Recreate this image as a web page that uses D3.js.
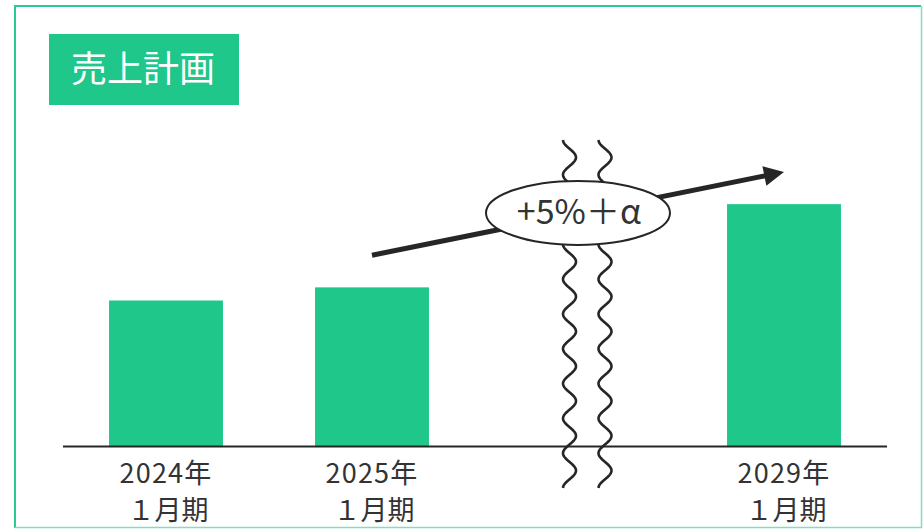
<!DOCTYPE html>
<html><head><meta charset="utf-8">
<script src="https://cdn.jsdelivr.net/npm/d3@7"></script>
<style>html,body{margin:0;padding:0;background:#fff;}svg{display:block;}</style>
</head><body>
<script>
// ---- data ----
const categories = ["2024", "2025", "gap", "2029"];
const barCategories = ["2024", "2025", "2029"];
const barValues = [100, 109, 166];          // index, 2024 = 100
const labelLine1 = ["2024年", "2025年", "2029年"];
const labelLine2 = ["１月期", "１月期", "１月期"];
const title = "売上計画";
const growthLabel = "+5%＋α";
const arrowFrom = {cat: "2025", value: 131};
const arrowTo = {cat: "2029", value: 188};
const bubbleValue = 160;

// ---- layout ----
const W = 923, H = 529;
const green = "#1fc78a", ink = "#262626";
const font = "'Noto Sans CJK JP', 'Noto Sans', sans-serif";

const svg = d3.select("body").append("svg").attr("width", W).attr("height", H);

// frame
svg.append("line").attr("x1", 15).attr("x2", 921).attr("y1", 6).attr("y2", 6).attr("stroke", "#2bca8f").attr("stroke-width", 2);
svg.append("line").attr("x1", 15).attr("x2", 15).attr("y1", 5).attr("y2", 528).attr("stroke", "#2bca8f").attr("stroke-width", 2);
svg.append("line").attr("x1", 921.5).attr("x2", 921.5).attr("y1", 6).attr("y2", 528).attr("stroke", "#7fdfbf").attr("stroke-width", 1.5);
svg.append("line").attr("x1", 15).attr("x2", 922).attr("y1", 527.5).attr("y2", 527.5).attr("stroke", "#7fdfbf").attr("stroke-width", 1.5);

// title box
svg.append("rect").attr("x", 49).attr("y", 34).attr("width", 190).attr("height", 71).attr("fill", green);
svg.append("text").attr("x", 143).attr("y", 82).attr("text-anchor", "middle")
  .attr("font-family", font).attr("font-size", 36).attr("fill", "#fff").text(title);

// scales
const x = d3.scaleBand().domain(categories).range([63, 887]).paddingInner(0.447).paddingOuter(0.2235);
const y = d3.scaleLinear().domain([0, 100]).range([446.5, 300.5]);
const cx = c => x(c) + x.bandwidth() / 2;

// bars
svg.selectAll("rect.bar").data(barCategories).join("rect").attr("class", "bar")
  .attr("x", d => x(d)).attr("width", x.bandwidth())
  .attr("y", (d, i) => y(barValues[i])).attr("height", (d, i) => y(0) - y(barValues[i]))
  .attr("fill", green);

// axis line
svg.append("line").attr("x1", x.range()[0]).attr("x2", x.range()[1]).attr("y1", y(0)).attr("y2", y(0))
  .attr("stroke", ink).attr("stroke-width", 2.2);

// labels
const lab = svg.selectAll("g.lab").data(barCategories).join("g").attr("class", "lab");
lab.append("text").attr("x", d => cx(d)).attr("y", 483).attr("text-anchor", "middle")
  .attr("font-family", font).attr("font-size", 27).attr("letter-spacing", 1.2).attr("fill", "#333").text((d, i) => labelLine1[i]);
lab.append("text").attr("x", d => cx(d) + 2).attr("y", 520).attr("text-anchor", "middle")
  .attr("font-family", font).attr("font-size", 27).attr("fill", "#333").text((d, i) => labelLine2[i]);

// break marks (wavy lines)
const gapC = cx("gap");
const wave = off => {
  const pts = [];
  for (let yy = 140; yy <= 488; yy += 1) {
    pts.push([gapC + off - 6.5 * Math.cos(2 * Math.PI * (yy - 140) / 34.8), yy]);
  }
  return d3.line()(pts);
};
[-8.5, 27].forEach(off => {
  svg.append("path").attr("d", wave(off)).attr("fill", "none").attr("stroke", ink).attr("stroke-width", 2.6);
});

// arrow
const defs = svg.append("defs");
defs.append("marker").attr("id", "ah").attr("viewBox", "0 0 10 10").attr("refX", 5).attr("refY", 5)
  .attr("markerWidth", 4.2).attr("markerHeight", 4).attr("orient", "auto").attr("markerUnits", "strokeWidth")
  .append("path").attr("d", "M0,0 L10,5 L0,10 z").attr("fill", ink);
const ax1 = cx(arrowFrom.cat), ay1 = y(arrowFrom.value), ax2 = cx(arrowTo.cat), ay2 = y(arrowTo.value);
const ang = Math.atan2(ay2 - ay1, ax2 - ax1);
svg.append("line").attr("x1", ax1).attr("y1", ay1)
  .attr("x2", ax2 - 10 * Math.cos(ang)).attr("y2", ay2 - 10 * Math.sin(ang))
  .attr("stroke", ink).attr("stroke-width", 5).attr("marker-end", "url(#ah)");

// bubble
svg.append("ellipse").attr("cx", gapC).attr("cy", y(bubbleValue)).attr("rx", 92).attr("ry", 32)
  .attr("fill", "#fff").attr("stroke", ink).attr("stroke-width", 2);
svg.append("text").attr("x", gapC + 1).attr("y", y(bubbleValue) + 11).attr("text-anchor", "middle")
  .attr("font-family", font).attr("font-size", 34).attr("fill", "#333").text(growthLabel);
</script>
</body></html>
